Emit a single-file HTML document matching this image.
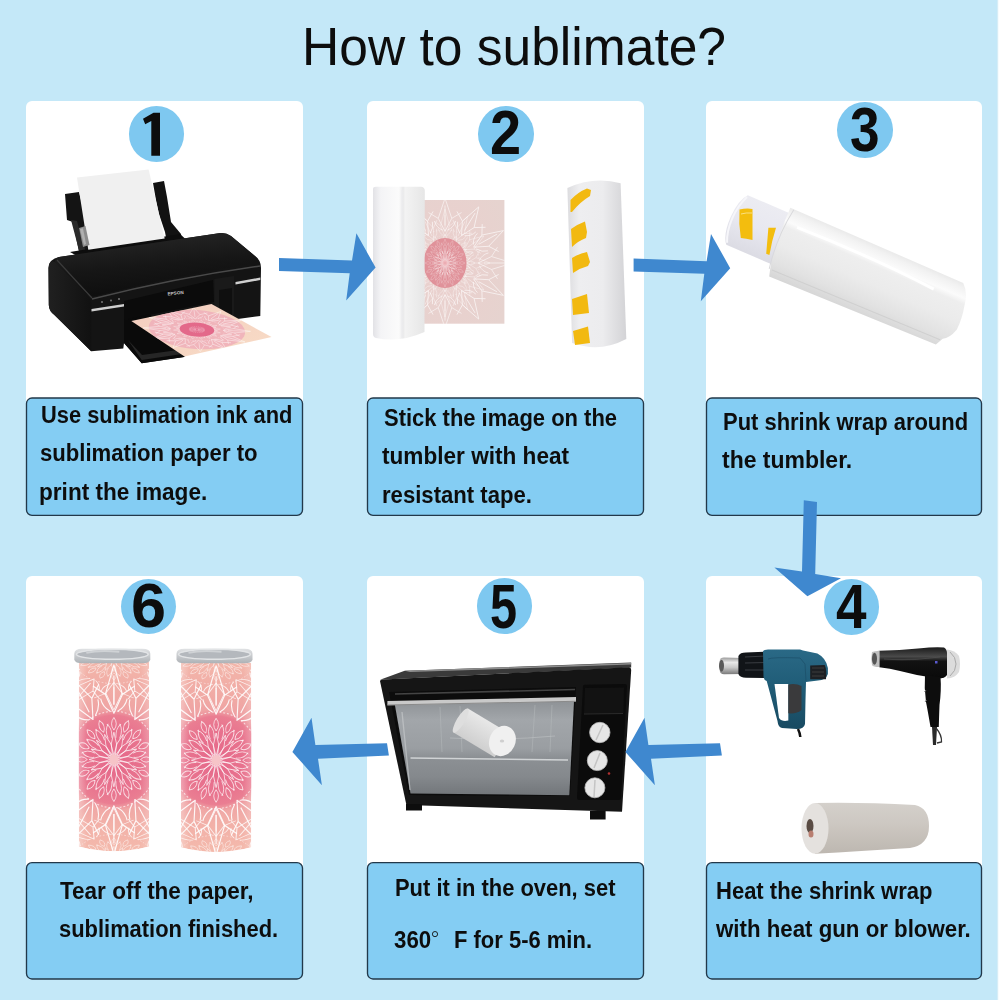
<!DOCTYPE html>
<html><head><meta charset="utf-8"><title>How to sublimate?</title>
<style>
html,body{margin:0;padding:0;}
body{width:999px;height:1000px;background:#c4e8f8;position:relative;overflow:hidden;font-family:"Liberation Sans",sans-serif;}
.pw{position:absolute;background:#fff;border-radius:6px;}
.bx{position:absolute;background:#84cdf3;border:1px solid #2c3e4c;border-radius:7px;box-sizing:border-box;}
.ci{position:absolute;width:55.6px;height:55.6px;border-radius:50%;background:#7ec8f0;}
.t{position:absolute;white-space:nowrap;color:#0d0d0d;transform-origin:0 0;}
svg.ov{position:absolute;left:0;top:0;}
.edge{position:absolute;right:0;top:0;width:1px;height:1000px;background:#f6fcfe;}
.edge2{position:absolute;left:997px;top:0;width:1px;height:1000px;background:#d6edf7;}
</style></head><body>
<div class="pw" style="left:26px;top:101px;width:277px;height:330px"></div><div class="pw" style="left:26px;top:576px;width:277px;height:310px"></div><div class="pw" style="left:367px;top:101px;width:277px;height:330px"></div><div class="pw" style="left:367px;top:576px;width:277px;height:310px"></div><div class="pw" style="left:706px;top:101px;width:276px;height:330px"></div><div class="pw" style="left:706px;top:576px;width:276px;height:310px"></div>
<svg class="ov" width="999" height="1000" viewBox="0 0 999 1000"><!-- PANEL 1: printer -->
<defs>
<linearGradient id="ptop" x1="0" y1="0" x2="0.3" y2="1"><stop offset="0" stop-color="#2a2a2a"/><stop offset="0.6" stop-color="#161616"/><stop offset="1" stop-color="#0e0e0e"/></linearGradient>
<linearGradient id="pside" x1="0" y1="0" x2="1" y2="0"><stop offset="0" stop-color="#202020"/><stop offset="1" stop-color="#111"/></linearGradient>
<linearGradient id="paperout" x1="0" y1="0" x2="1" y2="1"><stop offset="0" stop-color="#f3cdbf"/><stop offset="1" stop-color="#f8dcc6"/></linearGradient>
<radialGradient id="mand" cx="0.5" cy="0.5" r="0.5"><stop offset="0" stop-color="#eba0b2"/><stop offset="0.45" stop-color="#eeaabb"/><stop offset="0.8" stop-color="#f2c0c4"/><stop offset="1" stop-color="#f5cfc6" stop-opacity="0"/></radialGradient>
</defs>
<!-- paper guides -->
<polygon points="65,194 79,192 84,212 92,250 80,257 73,222 67,220" fill="#141414"/>
<polygon points="71,220 77,221 82,240 86,252 80,254" fill="#2a2a2a"/>
<polygon points="153,183 164,181 167,197 171,222 181,234 184,256 170,258 165,232 159,214 156,200" fill="#121212"/>
<!-- rear housing -->
<polygon points="70,252 180,234 192,245 200,246 88,262" fill="#0d0d0d"/>
<!-- feed paper -->
<polygon points="77,177.5 148.6,169.5 164.7,238.5 88.3,249.7" fill="#f0f0f0"/>
<polygon points="79,228 85.5,226 89.5,245 83,247" fill="#8c8c8c"/><polygon points="80,229 83,228.3 86,244 84,245" fill="#b0b0b0"/>
<!-- body silhouette -->
<path d="M48.5,268 Q49,259 59,257 L220.5,233 Q226,232.5 231,236 L255,256 Q261,260 261,268 L260.3,316 L234,319.5 L184,357 L141.7,363.3 L124,343 L123.3,348.5 L91.2,351.3 L54.4,315 Q49,311 48.8,305 Z" fill="#141414"/>
<!-- top surface -->
<path d="M59,257 L220.5,233 Q226,232.5 231,236 L255,256 Q259,259 258,263 Q175,276 96,296 Q90,297 86,293 L55,262 Q55,258 59,257 Z" fill="url(#ptop)"/>
<!-- front top bevel highlight -->
<path d="M92,299 Q175,278 260,266" stroke="#4a4a4a" stroke-width="1.5" fill="none"/>
<path d="M57,260 Q75,280 92,298" stroke="#3a3a3a" stroke-width="1.2" fill="none"/>
<!-- left side face -->
<path d="M48.5,268 Q49,259 55,262 L86,293 Q90,297 91.5,303 L91.2,351.3 L54.4,315 Q49,311 48.8,305 Z" fill="url(#pside)"/>
<!-- front recess -->
<polygon points="124,301 213,280 214,302 124,320" fill="#0b0b0b"/>
<polygon points="214.5,279 234,276 234,319 214.5,306" fill="#1a1a1a"/>
<polygon points="219,290 232,288 232,316 219,310" fill="#0f0f0f"/>
<!-- silver strips -->
<polygon points="91.5,309 124,304 124,306.5 91.5,311.5" fill="#cfcfcf"/>
<polygon points="235.5,282 260.3,277.5 260.3,280 235.5,284.5" fill="#d0d0d0"/>
<!-- buttons -->
<circle cx="102" cy="302" r="1" fill="#777"/><circle cx="111" cy="300.5" r="1" fill="#777"/><circle cx="119" cy="299" r="1" fill="#777"/>
<!-- EPSON -->
<text x="167.5" y="295" font-family="Liberation Sans" font-size="4.6" font-weight="bold" fill="#c8c8c8" transform="rotate(-6 172 293)">EPSON</text>
<!-- tray -->
<polygon points="124,320 150,314 184,357 141.7,363.3 124,343" fill="#0a0a0a"/>
<polygon points="128,340 141.7,360 182,354 178,350 142,355" fill="#262626"/>
<!-- output paper -->
<clipPath id="pcl"><polygon points="131.3,321 211.5,304 271.5,337 184.5,356.6"/></clipPath>
<polygon points="131.3,321 211.5,304 271.5,337 184.5,356.6" fill="url(#paperout)"/>
<g clip-path="url(#pcl)">
<g transform="matrix(0.802,-0.17,0.532,0.356,131.3,321)">
 <circle cx="50" cy="48" r="50" fill="#efadb9" opacity="0.8"/>
 <g transform="translate(50,48) scale(0.62)" opacity="0.85"><use href="#lace6"/></g>
 <circle cx="50" cy="48" r="18" fill="#e3698a"/>
 <g transform="translate(50,48) scale(0.42)" opacity="0.6"><use href="#core"/></g>
</g>
</g>
<!-- PANEL 2: roll + paper + taped tumbler -->
<defs>
<linearGradient id="roll2" x1="0" y1="0" x2="1" y2="0"><stop offset="0" stop-color="#e2e2e6"/><stop offset="0.15" stop-color="#f4f4f6"/><stop offset="0.5" stop-color="#fbfbfb"/><stop offset="0.58" stop-color="#e9e9ea"/><stop offset="0.62" stop-color="#f3f3f3"/><stop offset="1" stop-color="#e6e6e6"/></linearGradient>
<linearGradient id="tum2" x1="0" y1="0" x2="1" y2="0"><stop offset="0" stop-color="#dcdcdf"/><stop offset="0.2" stop-color="#eeeef0"/><stop offset="0.6" stop-color="#ececee"/><stop offset="1" stop-color="#d3d3d6"/></linearGradient>
<radialGradient id="sheetg" cx="0.3" cy="0.5" r="0.8"><stop offset="0" stop-color="#ebcfcd"/><stop offset="1" stop-color="#e6d3cf"/></radialGradient>
<g id="lace">
  <g fill="none" stroke="#fff" stroke-width="1.1" stroke-opacity="0.85">
   <path id="ray" d="M0,-12 Q4,-22 0,-34 Q-4,-22 0,-12 M0,-36 Q7,-44 0,-54 Q-7,-44 0,-36 M-5,-30 L-10,-40 M5,-30 L10,-40"/>
   <use href="#ray" transform="rotate(22.5)"/><use href="#ray" transform="rotate(45)"/><use href="#ray" transform="rotate(67.5)"/>
   <use href="#ray" transform="rotate(90)"/><use href="#ray" transform="rotate(112.5)"/><use href="#ray" transform="rotate(135)"/>
   <use href="#ray" transform="rotate(157.5)"/><use href="#ray" transform="rotate(180)"/><use href="#ray" transform="rotate(202.5)"/>
   <use href="#ray" transform="rotate(225)"/><use href="#ray" transform="rotate(247.5)"/><use href="#ray" transform="rotate(270)"/>
   <use href="#ray" transform="rotate(292.5)"/><use href="#ray" transform="rotate(315)"/><use href="#ray" transform="rotate(337.5)"/>
  </g>
</g>
<g id="core">
  <g fill="none" stroke="#fff" stroke-width="0.9" stroke-opacity="0.8">
   <path id="cray" d="M0,-3 L2,-10 L0,-20 L-2,-10 Z M-3,-15 L-6,-19 M3,-15 L6,-19"/>
   <use href="#cray" transform="rotate(30)"/><use href="#cray" transform="rotate(60)"/><use href="#cray" transform="rotate(90)"/>
   <use href="#cray" transform="rotate(120)"/><use href="#cray" transform="rotate(150)"/><use href="#cray" transform="rotate(180)"/>
   <use href="#cray" transform="rotate(210)"/><use href="#cray" transform="rotate(240)"/><use href="#cray" transform="rotate(270)"/>
   <use href="#cray" transform="rotate(300)"/><use href="#cray" transform="rotate(330)"/>
  </g>
</g>
<filter id="soft" x="-10%" y="-10%" width="120%" height="120%"><feGaussianBlur stdDeviation="0.45"/></filter>
<clipPath id="sheetclip"><rect x="424" y="200" width="80.4" height="123.7"/></clipPath>
</defs>
<!-- paper sheet -->
<rect x="424" y="200" width="80.4" height="123.7" fill="url(#sheetg)"/>
<g clip-path="url(#sheetclip)">
  <g transform="translate(445,263) scale(0.75,0.72)" opacity="0.7" filter="url(#soft)"><use href="#lace6"/></g>
  <ellipse cx="445" cy="263" rx="21.5" ry="25" fill="#e0929a"/>
  <g transform="translate(445,263) scale(0.55,0.62)" opacity="0.75" filter="url(#soft)"><use href="#core"/></g>
  <g transform="translate(445,263) scale(0.5,0.6)" opacity="0.55" filter="url(#soft)"><use href="#lace6"/></g>
</g>
<!-- roll -->
<path d="M373,189 Q373,186.8 376,186.8 L421,186.8 Q424.8,187 424.8,191 L424.5,332 Q400,343 376,338 Q373,337 373,334 Z" fill="url(#roll2)"/>
<path d="M402,190 L402,338" stroke="#ececee" stroke-width="1"/>
<!-- tumbler with tapes -->
<path d="M567.4,188 Q594,176 620.6,183.3 L626.3,339 Q600,353 572.1,343 Z" fill="url(#tum2)"/>
<g fill="#f2b910">
<path d="M570.5,200 Q578,192 587,188.5 L591,190 L590,196 Q580,202 572,212 L570.5,212 Z"/>
<path d="M571,229 Q578,224 585,221.5 L587,232 L586,238 Q578,241 572,247 Z"/>
<path d="M572,258 Q580,253 587,252 L590,262 L588,266 Q580,268 573,273 Z"/>
<path d="M572,299 L587,294 L589,313 L573,315 Z"/>
<path d="M573,331 L588,326.5 L590,343 L575,345 Z"/>
</g>
<!-- PANEL 3: shrink-wrapped tumbler (diagonal) -->
<defs>
<linearGradient id="wrap3" x1="0" y1="-34" x2="0" y2="40" gradientUnits="userSpaceOnUse">
 <stop offset="0" stop-color="#e6e6e6"/><stop offset="0.1" stop-color="#f2f2f2"/><stop offset="0.22" stop-color="#fbfbfb"/>
 <stop offset="0.3" stop-color="#eeeeee"/><stop offset="0.55" stop-color="#ebebeb"/><stop offset="0.8" stop-color="#e2e2e2"/><stop offset="1" stop-color="#d6d6d6"/></linearGradient>
<linearGradient id="tum3" x1="0" y1="-27" x2="0" y2="27" gradientUnits="userSpaceOnUse"><stop offset="0" stop-color="#ececf2"/><stop offset="0.5" stop-color="#e8e8f0"/><stop offset="1" stop-color="#dcdce4"/></linearGradient>
</defs>
<g transform="translate(864,274) rotate(23.5)">
  <path d="M-138,-26 L-88,-26 L-88,28 L-138,28 Q-145,20 -145,1 Q-145,-18 -138,-26 Z" fill="url(#tum3)"/>
  <path d="M-138,-24 Q-143,-12 -143,1 Q-143,16 -138,26" stroke="#f6f6fa" stroke-width="2" fill="none"/>
  <path d="M-94,-31.5 L94.6,-31.3 Q103,-24 104.6,-11.7 Q108,2 107.3,14.2 Q104,25 98,28 L94,36 L-86,40 L-88,33 Q-94,10 -94,-31.5 Z" fill="url(#wrap3)"/>
  <path d="M-86,33 L96,30" stroke="#d0d0d0" stroke-width="1" fill="none"/>
  <path d="M-80,-16 Q0,-19 70,-14" stroke="#ffffff" stroke-width="3" fill="none" stroke-opacity="0.95"/>
  <path d="M-90,-31 Q-95,0 -89,33" stroke="#d9d9dc" stroke-width="1" fill="none"/>
</g>
<g fill="#f3bd0e">
<path d="M739.5,209.5 Q746,208 752.5,208.9 L752.5,240.1 Q746,238.5 740.8,238.1 Q738.5,224 739.5,209.5 Z"/>
<path d="M768.4,227.7 L776,227.7 Q772,240 769.4,255 L766.2,253.8 Z"/>
</g>
<path d="M741,214 Q746,212.5 752,213" stroke="#fbe8a0" stroke-width="0.8" fill="none"/>
<!-- PANEL 4: heat gun, hair dryer, wrap roll -->
<defs>
<linearGradient id="noz" x1="0" y1="0" x2="0" y2="1"><stop offset="0" stop-color="#9a9a9a"/><stop offset="0.3" stop-color="#e8e8e8"/><stop offset="0.6" stop-color="#c8c8c8"/><stop offset="1" stop-color="#7a7a7a"/></linearGradient>
<linearGradient id="teal" x1="0" y1="0" x2="0" y2="1"><stop offset="0" stop-color="#2a6986"/><stop offset="0.4" stop-color="#215e79"/><stop offset="1" stop-color="#184a61"/></linearGradient>
<linearGradient id="dry" x1="0" y1="0" x2="0" y2="1"><stop offset="0" stop-color="#1a1a1a"/><stop offset="0.3" stop-color="#4a4a4a"/><stop offset="0.45" stop-color="#121212"/><stop offset="1" stop-color="#0a0a0a"/></linearGradient>
<linearGradient id="roll4" x1="0" y1="0" x2="0" y2="1"><stop offset="0" stop-color="#d4d0cb"/><stop offset="0.4" stop-color="#cdc8c2"/><stop offset="1" stop-color="#bdb7b0"/></linearGradient>
</defs>
<!-- heat gun -->
<path d="M719.8,660 Q720,657.4 724,657.4 L742.6,658 L742.6,674 L724,674.2 Q720,674 719.8,671 Z" fill="url(#noz)"/>
<ellipse cx="721.5" cy="665.8" rx="2.5" ry="6" fill="#5a5a5a"/>
<path d="M738.4,656 Q740,652.6 746,652.6 L767.9,651.5 L767.9,678 L746,677.8 Q740,677.8 738.4,674 Z" fill="#111418"/>
<path d="M745,657 L766,656 M745,663 L766,662.5 M745,670 L766,670" stroke="#3a3d42" stroke-width="1"/>
<path d="M763,651.5 Q764,649.6 768,649.6 L800,649.6 L803,650.4 L817.4,653.6 Q826,658 827.9,668 L827.9,674 Q826,680 818,680.5 L806,682 L805.5,700 L805,724 Q804,729 797,729 L782,728 Q778,727 777.5,721 L766.7,681 Q764,680 763.5,677 Z" fill="url(#teal)"/>
<path d="M768,659 Q772,657 800,658 L805,664 L806,681" stroke="#1b4f68" stroke-width="1" fill="none" opacity="0.7"/>
<path d="M774.5,684 L788.3,684 L788.3,720.5 Q782,722 779,718 Z" fill="#ffffff"/>
<path d="M788.3,684.4 Q796,683 801.5,686 L801.5,710 Q797,714 788.3,713.3 Z" fill="#3a3a3c"/>
<path d="M810.2,665.6 L824.7,665 Q827,670 826,679.2 L810.2,679.2 Z" fill="#1d2024"/>
<path d="M812,668 L824,668 M812,672 L824,672 M812,676 L824,676" stroke="#444" stroke-width="0.8"/>
<path d="M798,729 Q800,733 800.3,737" stroke="#111" stroke-width="2.5" fill="none"/>
<!-- hair dryer -->
<path d="M879.3,650.8 Q900,650.5 918,648.5 Q936,646.5 944,647.5 Q947,649 947,653 L947,675 Q945,678.5 938,678.5 Q918,676 900,671 Q890,668.5 879.3,667.3 Z" fill="url(#dry)"/>
<path d="M884,659 Q910,661 940,657" stroke="#555" stroke-width="1.2" fill="none" opacity="0.6"/>
<path d="M947,649.4 Q955,650 959,656 Q961,664 959,672 Q955,678 947,678.5 Z" fill="#dcdcdc"/>
<path d="M950,652 Q956,657 956,664 Q956,671 950,676" stroke="#aaa" stroke-width="1" fill="none"/>
<path d="M872,652 Q879.3,650.5 879.3,650.5 L879.3,667 Q873,667 872,665 Q870.5,659 872,652 Z" fill="#bfbfbf"/>
<ellipse cx="874.5" cy="658.8" rx="2.5" ry="6" fill="#555"/>
<path d="M925,675 L940.5,677 Q941.5,690 939.5,705 Q939,718 938.8,727 L930.5,727 Q928,712 926,702 Q924,688 925,675 Z" fill="#0d0d0d"/>
<path d="M926,690 L924.5,692 M926.5,700 L925,702" stroke="#777" stroke-width="1"/>
<path d="M932,727 L937,727 L936,745 L933,745 Z" fill="#2a2a2a"/>
<path d="M936,728 Q942,735 941.5,742 L937,743" stroke="#333" stroke-width="1.3" fill="none"/>
<rect x="935" y="661" width="2.5" height="2.5" fill="#5a5ad0"/>
<!-- shrink wrap roll -->
<path d="M815,803 Q860,802 915,805 Q929,808 929,826 Q929,845 910,848 Q860,851 815,853.8 Z" fill="url(#roll4)"/>
<ellipse cx="815" cy="828.4" rx="13.5" ry="25.4" fill="#e4e1de"/>
<ellipse cx="810" cy="826" rx="3.5" ry="7" fill="#5a4c44"/>
<ellipse cx="811" cy="834" rx="2.5" ry="3.5" fill="#b87e70"/>
<!-- PANEL 5: oven -->
<defs>
<linearGradient id="glass" x1="0" y1="0" x2="0" y2="1"><stop offset="0" stop-color="#8e9296"/><stop offset="0.2" stop-color="#a2a6aa"/><stop offset="0.5" stop-color="#9a9ea2"/><stop offset="0.6" stop-color="#8c9094"/><stop offset="0.8" stop-color="#85898d"/><stop offset="1" stop-color="#72767a"/></linearGradient>
<linearGradient id="roll5" x1="0" y1="0" x2="0" y2="1"><stop offset="0" stop-color="#e8e8e8"/><stop offset="1" stop-color="#cfcfcf"/></linearGradient>
</defs>
<!-- top surface -->
<polygon points="380,679.7 404.7,670.7 631.2,662.5 631.2,667.4" fill="#3a3a3a"/>
<polygon points="404.7,670.7 631.2,663 631,664.6 410,672" fill="#8e8e8e"/>
<!-- body -->
<path d="M380,681 Q380,679.7 383,679.5 L629,667.3 Q631.2,667.4 631.2,670 L622,811.7 L406.4,805 Z" fill="#151515"/>
<!-- feet -->
<rect x="406" y="804" width="16" height="6.5" fill="#0d0d0d"/>
<rect x="590" y="811" width="15.6" height="8.5" fill="#0d0d0d"/>
<!-- door frame interior (dark) -->
<path d="M389,692 L576,687 L570,796 L409,795 Z" fill="#0c0c0c"/>
<!-- glass -->
<path d="M394.8,704.5 L574,701 L569.3,795.2 L410.5,793.6 Z" fill="url(#glass)"/>
<!-- inside rack lines -->
<path d="M440,707 L442,752 M460,706 L462,752 M535,705 L532,752 M552,705 L550,752" stroke="#b8bcbe" stroke-width="0.8" opacity="0.6"/>
<path d="M450,738 Q500,741 555,736" stroke="#c0c4c6" stroke-width="0.8" fill="none" opacity="0.7"/>
<path d="M410.5,758 L568,760" stroke="#d0d3d5" stroke-width="1.5"/>
<path d="M402,712 L410,790" stroke="#c5c8ca" stroke-width="1.3" opacity="0.7"/>
<!-- roll inside -->
<g transform="translate(483,734) rotate(31)">
 <rect x="-26" y="-14" width="48" height="28" fill="url(#roll5)"/>
 <ellipse cx="-26" cy="0" rx="4" ry="14" fill="#dedede"/>
</g>
<ellipse cx="502.4" cy="741" rx="13" ry="15.5" transform="rotate(25 502.4 741)" fill="#f0f0f0"/>
<ellipse cx="502" cy="741" rx="2.2" ry="1.6" fill="#cfcfcf"/>
<!-- handle -->
<path d="M387.4,701 L576,697 L576,701.5 L387.4,705.3 Z" fill="#c9c9c9"/>
<path d="M387.4,704.5 L576,700.8 L576,701.8 L387.4,705.5 Z" fill="#8a8a8a"/>
<path d="M395,694 L575,689.5" stroke="#444" stroke-width="1.5"/>
<!-- control panel -->
<path d="M583,686 Q583,684.7 585,684.7 L625,684 Q627,684 627,686 L621,798 Q621,800 619,800 L579,800 Q577,800 577,798 Z" fill="#0b0b0b"/>
<path d="M585,688 L624,687.5 L623.5,713 L584,713.5 Z" fill="#121212"/>
<path d="M584,714 L623,713.5" stroke="#333" stroke-width="0.8"/>
<g fill="#e6e6e6" stroke="#bbb" stroke-width="0.8">
<circle cx="599.8" cy="732.5" r="10.2"/>
<circle cx="597.3" cy="760.6" r="10"/>
<circle cx="594.9" cy="787.8" r="10"/>
</g>
<path d="M596,740 L603,725 M594,768 L600,753 M594,797 L595,780" stroke="#c4c4c4" stroke-width="1.5"/>
<circle cx="609" cy="773.5" r="1.3" fill="#b03030"/>
<!-- PANEL 6: two sublimated tumblers -->
<defs>
<linearGradient id="tumb6" x1="0" y1="0" x2="0" y2="1">
 <stop offset="0" stop-color="#f3b6aa"/><stop offset="0.2" stop-color="#f0a8a4"/>
 <stop offset="0.3" stop-color="#eea0a4"/><stop offset="0.5" stop-color="#ea8c9c"/>
 <stop offset="0.7" stop-color="#eea0a4"/><stop offset="0.85" stop-color="#f2b0a8"/><stop offset="1" stop-color="#f4baac"/></linearGradient>
<linearGradient id="tumbs" x1="0" y1="0" x2="1" y2="0">
 <stop offset="0" stop-color="#fff" stop-opacity="0.3"/><stop offset="0.12" stop-color="#fff" stop-opacity="0"/>
 <stop offset="0.88" stop-color="#fff" stop-opacity="0"/><stop offset="1" stop-color="#fff" stop-opacity="0.2"/></linearGradient>
<linearGradient id="lidband" x1="0" y1="0" x2="0" y2="1"><stop offset="0" stop-color="#e0e2e4"/><stop offset="1" stop-color="#aeb2b6"/></linearGradient>
<radialGradient id="mid6" cx="0.5" cy="0.5" r="0.5"><stop offset="0" stop-color="#e5688a"/><stop offset="0.6" stop-color="#e8738e"/><stop offset="0.85" stop-color="#ea7e92"/><stop offset="1" stop-color="#ee98a0" stop-opacity="0"/></radialGradient>
<g id="lace6">
 <g fill="none" stroke="#fff" stroke-width="1.2" stroke-opacity="0.9" stroke-linejoin="round">
  <path id="r6" d="M0,-44 L-9,-62 L0,-90 L9,-62 Z M0,-52 L0,-80 M-9,-62 L-22,-70 M9,-62 L22,-70 M-4,-46 Q-12,-50 -14,-58 M4,-46 Q12,-50 14,-58"/>
  <use href="#r6" transform="rotate(30)"/><use href="#r6" transform="rotate(60)"/><use href="#r6" transform="rotate(90)"/>
  <use href="#r6" transform="rotate(120)"/><use href="#r6" transform="rotate(150)"/><use href="#r6" transform="rotate(180)"/>
  <use href="#r6" transform="rotate(210)"/><use href="#r6" transform="rotate(240)"/><use href="#r6" transform="rotate(270)"/>
  <use href="#r6" transform="rotate(300)"/><use href="#r6" transform="rotate(330)"/>
 </g>
 <g fill="none" stroke="#fff" stroke-width="0.9" stroke-opacity="0.75">
  <path id="c6" d="M0,-4 L3,-14 L0,-26 L-3,-14 Z M0,-28 Q5,-34 0,-40 Q-5,-34 0,-28 M-6,-20 Q-10,-28 -6,-34 M6,-20 Q10,-28 6,-34"/>
  <use href="#c6" transform="rotate(22.5)"/><use href="#c6" transform="rotate(45)"/><use href="#c6" transform="rotate(67.5)"/>
  <use href="#c6" transform="rotate(90)"/><use href="#c6" transform="rotate(112.5)"/><use href="#c6" transform="rotate(135)"/>
  <use href="#c6" transform="rotate(157.5)"/><use href="#c6" transform="rotate(180)"/><use href="#c6" transform="rotate(202.5)"/>
  <use href="#c6" transform="rotate(225)"/><use href="#c6" transform="rotate(247.5)"/><use href="#c6" transform="rotate(270)"/>
  <use href="#c6" transform="rotate(292.5)"/><use href="#c6" transform="rotate(315)"/><use href="#c6" transform="rotate(337.5)"/>
 </g>
 <circle r="46" fill="none" stroke="#fff" stroke-width="1" stroke-opacity="0.7" stroke-dasharray="2 2"/>
 <circle r="5" fill="#f6c4c8"/>
</g>
<g id="tumbler6">
  <path d="M0,0 L70.3,0 L70.3,184.5 Q35.2,194 0,184.5 Z" fill="url(#tumb6)"/>
  <ellipse cx="35.2" cy="97.5" rx="52" ry="52" fill="url(#mid6)"/>
  <g transform="translate(35.2,97.5) scale(0.95,1.05)" filter="url(#soft)"><use href="#lace6"/></g>
  <g transform="translate(35.2,-6) scale(0.9,0.6)" opacity="0.85" filter="url(#soft)"><use href="#lace6"/></g>
  <g transform="translate(35.2,200) scale(0.9,0.6)" opacity="0.85" filter="url(#soft)"><use href="#lace6"/></g>
  <path d="M0,0 L70.3,0 L70.3,184.5 Q35.2,194 0,184.5 Z" fill="url(#tumbs)"/>
</g>
<clipPath id="t6clip"><path d="M0,0 L70.3,0 L70.3,184.5 Q35.2,194 0,184.5 Z"/></clipPath>
<g id="lid6">
  <path d="M0,5 Q0,0 8,0 L68,0 Q76,0 76,5 L76,11 Q75,14.5 68,14.5 L8,14.5 Q1,14.5 0,11 Z" fill="url(#lidband)"/>
  <ellipse cx="38" cy="5.5" rx="35" ry="4.6" fill="#b4b8bd"/>
  <ellipse cx="38" cy="5.5" rx="36" ry="5" fill="none" stroke="#e2e4e6" stroke-width="1.4"/>
  <path d="M12,4 Q25,1 45,3" stroke="#cfd2d5" stroke-width="2" fill="none"/>
</g>
</defs>
<g transform="translate(78.7,662)"><g clip-path="url(#t6clip)"><use href="#tumbler6"/></g></g>
<g transform="translate(180.9,662.8)"><g clip-path="url(#t6clip)"><use href="#tumbler6"/></g></g>
<g transform="translate(74.3,648.8)"><use href="#lid6"/></g>
<g transform="translate(176.5,648.8)"><use href="#lid6"/></g>
<rect x="26.5" y="398" width="276" height="117.4" rx="5.5" fill="#84cdf3" stroke="#22384a" stroke-width="1.35"/><rect x="26.5" y="862.6" width="276" height="116.4" rx="5.5" fill="#84cdf3" stroke="#22384a" stroke-width="1.35"/><rect x="367.5" y="398" width="276" height="117.4" rx="5.5" fill="#84cdf3" stroke="#22384a" stroke-width="1.35"/><rect x="367.5" y="862.6" width="276" height="116.4" rx="5.5" fill="#84cdf3" stroke="#22384a" stroke-width="1.35"/><rect x="706.5" y="398" width="275" height="117.4" rx="5.5" fill="#84cdf3" stroke="#22384a" stroke-width="1.35"/><rect x="706.5" y="862.6" width="275" height="116.4" rx="5.5" fill="#84cdf3" stroke="#22384a" stroke-width="1.35"/></svg>
<div class="ci" style="left:128.6px;top:106.2px"></div><div class="ci" style="left:478.0px;top:106.2px"></div><div class="ci" style="left:837.2px;top:102.2px"></div><div class="ci" style="left:823.9px;top:579.2px"></div><div class="ci" style="left:476.9px;top:578.0px"></div><div class="ci" style="left:120.5px;top:578.6px"></div>
<div class="t" style="left:40.6px;top:404px;font-size:23px;line-height:23px;font-weight:bold;transform:scaleX(0.9505)">Use sublimation ink and</div>
<div class="t" style="left:39.7px;top:442px;font-size:23px;line-height:23px;font-weight:bold;transform:scaleX(0.9618)">sublimation paper to</div>
<div class="t" style="left:39.1px;top:481px;font-size:23px;line-height:23px;font-weight:bold;transform:scaleX(0.9825)">print the image.</div>
<div class="t" style="left:384.4px;top:407px;font-size:23px;line-height:23px;font-weight:bold;transform:scaleX(0.9547)">Stick the image on the</div>
<div class="t" style="left:382.2px;top:445px;font-size:23px;line-height:23px;font-weight:bold;transform:scaleX(0.9825)">tumbler with heat</div>
<div class="t" style="left:381.7px;top:484px;font-size:23px;line-height:23px;font-weight:bold;transform:scaleX(0.9619)">resistant tape.</div>
<div class="t" style="left:722.8px;top:411px;font-size:23px;line-height:23px;font-weight:bold;transform:scaleX(0.9540)">Put shrink wrap around</div>
<div class="t" style="left:721.5px;top:449px;font-size:23px;line-height:23px;font-weight:bold;transform:scaleX(0.9987)">the tumbler.</div>
<div class="t" style="left:59.5px;top:880px;font-size:23px;line-height:23px;font-weight:bold;transform:scaleX(0.9787)">Tear off the paper,</div>
<div class="t" style="left:58.5px;top:918px;font-size:23px;line-height:23px;font-weight:bold;transform:scaleX(0.9527)">sublimation finished.</div>
<div class="t" style="left:395.0px;top:877px;font-size:23px;line-height:23px;font-weight:bold;transform:scaleX(0.9530)">Put it in the oven, set</div>
<div class="t" style="left:454.0px;top:929px;font-size:23px;line-height:23px;font-weight:bold;transform:scaleX(0.9556)">F for 5-6 min.</div>
<div class="t" style="left:716.0px;top:880px;font-size:23px;line-height:23px;font-weight:bold;transform:scaleX(0.9566)">Heat the shrink wrap</div>
<div class="t" style="left:715.5px;top:918px;font-size:23px;line-height:23px;font-weight:bold;transform:scaleX(0.9679)">with heat gun or blower.</div>
<div class="t" style="left:302.4px;top:20px;font-size:53px;line-height:53px;transform:scaleX(0.9726)">How to sublimate?</div>
<div class="t" style="left:394.2px;top:929px;font-size:23px;line-height:23px;font-weight:bold;transform:scaleX(0.9685)">360</div>
<div class="t" style="left:489.7px;top:101px;font-size:63px;line-height:63px;font-weight:bold;transform:scaleX(0.8871)">2</div>
<div class="t" style="left:850.2px;top:98px;font-size:63px;line-height:63px;font-weight:bold;transform:scaleX(0.8438)">3</div>
<div class="t" style="left:835.5px;top:575px;font-size:63px;line-height:63px;font-weight:bold;transform:scaleX(0.8714)">4</div>
<div class="t" style="left:490.2px;top:575px;font-size:63px;line-height:63px;font-weight:bold;transform:scaleX(0.7727)">5</div>
<div class="t" style="left:131.0px;top:574px;font-size:63px;line-height:63px;font-weight:bold;transform:scaleX(1.0000)">6</div>
<svg class="ov" width="999" height="1000" viewBox="0 0 999 1000"><circle cx="435" cy="934.1" r="2.6" fill="none" stroke="#111" stroke-width="0.9"/><path d="M153.5,112.8 L160,112.8 L160,155.8 L151.3,155.8 L151.3,121 L145.2,124.2 L143,118.7 Z" fill="#0d0d0d"/></svg>
<svg class="ov" width="999" height="1000" viewBox="0 0 999 1000"><polygon points="279.0,258.0 352.0,260.6 356.4,233.3 375.6,267.6 346.2,300.6 349.7,273.2 279.0,271.0" fill="#3f88cf"/><polygon points="633.6,258.6 706.6,261.2 711.0,233.9 730.2,268.2 700.8,301.2 704.3,273.8 633.6,271.6" fill="#3f88cf"/><polygon points="803.8,500.2 817.0,502.0 815.2,574.0 841.0,578.2 807.4,596.2 774.4,567.4 802.0,571.6" fill="#3f88cf"/><polygon points="625.4,751.9 644.5,717.8 648.4,744.9 720.0,743.2 721.9,755.5 651.0,758.8 654.9,785.2" fill="#3f88cf"/><polygon points="292.4,751.9 311.5,717.8 315.4,744.9 387.0,743.2 388.9,755.5 318.0,758.8 321.9,785.2" fill="#3f88cf"/></svg>
<div class="edge2"></div><div class="edge"></div>
</body></html>
